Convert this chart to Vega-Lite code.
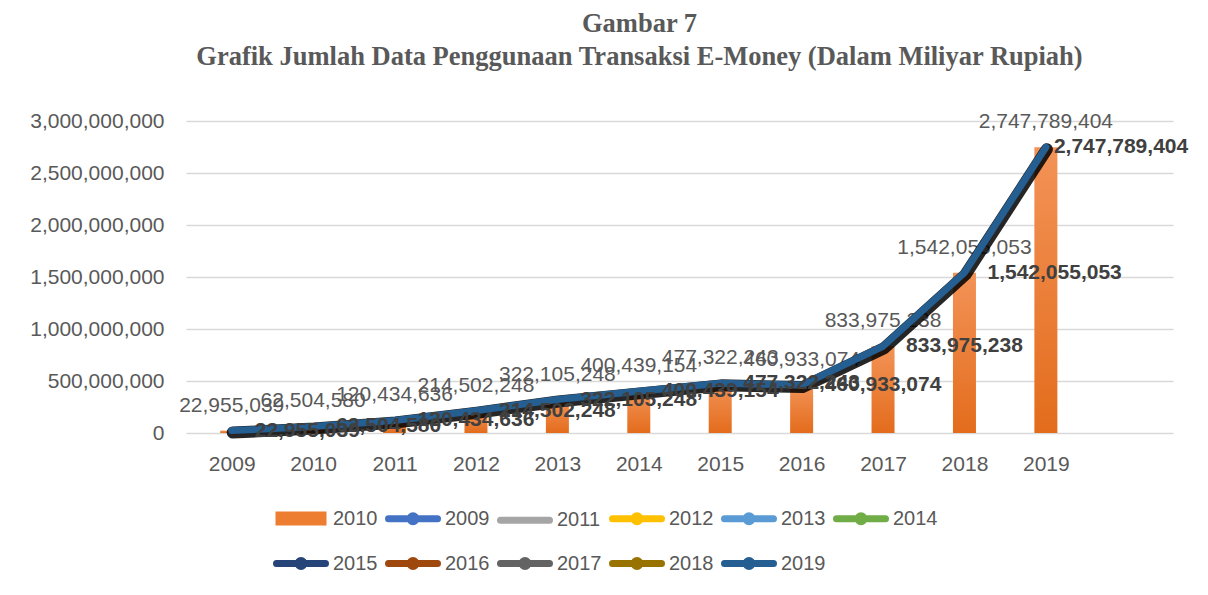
{
  "$schema": "https://vega.github.io/schema/vega-lite/v6.json",
  "width": 987,
  "height": 312,
  "autosize": {"type": "none"},
  "padding": {"left": 186, "top": 121, "right": 35, "bottom": 162},
  "background": "white",
  "config": {"view": {"stroke": null}, "font": "Liberation Sans"},
  "title": {
    "text": ["Gambar 7", "Grafik Jumlah Data Penggunaan Transaksi E-Money (Dalam Miliyar Rupiah)"],
    "font": "Liberation Serif",
    "fontSize": 26.5,
    "fontWeight": "bold",
    "color": "#595959",
    "lineHeight": 33,
    "anchor": "middle",
    "dx": -40,
    "offset": 40
  },
  "data": {
    "values": [
      {"year": 2009, "value": 22955039, "series": "2019"},
      {"year": 2010, "value": 62504580, "series": "2019"},
      {"year": 2011, "value": 120434636, "series": "2019"},
      {"year": 2012, "value": 214502248, "series": "2019"},
      {"year": 2013, "value": 322105248, "series": "2019"},
      {"year": 2014, "value": 400439154, "series": "2019"},
      {"year": 2015, "value": 477322243, "series": "2019"},
      {"year": 2016, "value": 460933074, "series": "2019"},
      {"year": 2017, "value": 833975238, "series": "2019"},
      {"year": 2018, "value": 1542055053, "series": "2019"},
      {"year": 2019, "value": 2747789404, "series": "2019"}
    ]
  },
  "encoding": {
    "x": {
      "field": "year",
      "type": "quantitative",
      "scale": {"domain": [2008.5, 2020.5], "nice": false, "zero": false},
      "axis": {
        "title": null,
        "values": [2009, 2010, 2011, 2012, 2013, 2014, 2015, 2016, 2017, 2018, 2019],
        "format": "d",
        "labelFontSize": 21,
        "labelColor": "#595959",
        "labelPadding": 20,
        "ticks": false,
        "domain": false,
        "grid": false
      }
    },
    "y": {
      "field": "value",
      "type": "quantitative",
      "scale": {"domain": [0, 3000000000], "nice": false},
      "axis": {
        "title": null,
        "values": [0, 500000000, 1000000000, 1500000000, 2000000000, 2500000000, 3000000000],
        "format": ",.0f",
        "labelFontSize": 21,
        "labelColor": "#595959",
        "labelPadding": 22,
        "ticks": false,
        "domain": false,
        "gridColor": "#d9d9d9",
        "gridWidth": 1.5
      }
    }
  },
  "layer": [
    {
      "mark": {
        "type": "bar",
        "size": 23,
        "fill": {
          "x1": 0, "y1": 0, "x2": 0, "y2": 1,
          "gradient": "linear",
          "stops": [
            {"offset": 0, "color": "#F39357"},
            {"offset": 1, "color": "#E36C1C"}
          ]
        }
      }
    },
    {
      "mark": {"type": "text", "dy": -25, "fontSize": 21, "color": "#595959"},
      "encoding": {"text": {"field": "value", "type": "quantitative", "format": ","}}
    },
    {
      "mark": {
        "type": "line",
        "color": "#000000",
        "strokeWidth": 12,
        "opacity": 0.85,
        "xOffset": 1,
        "yOffset": 2,
        "strokeJoin": "round",
        "strokeCap": "round"
      },
      "encoding": {}
    },
    {
      "mark": {"type": "line", "strokeWidth": 7, "strokeJoin": "round", "strokeCap": "round"},
      "encoding": {
        "color": {
          "field": "series",
          "type": "nominal",
          "scale": {
            "domain": ["2010", "2009", "2011", "2012", "2013", "2014", "2015", "2016", "2017", "2018", "2019"],
            "range": ["#ED7D31", "#4472C4", "#A5A5A5", "#FFC000", "#5B9BD5", "#70AD47", "#264478", "#9E480E", "#636363", "#997300", "#255E91"]
          },
          "legend": {
            "title": null,
            "orient": "none",
            "legendX": 87.5,
            "legendY": 384,
            "direction": "horizontal",
            "columns": 6,
            "padding": 0,
            "symbolSize": 400,
            "symbolStrokeWidth": 7,
            "symbolOffset": 14,
            "labelOffset": 18.5,
            "columnPadding": -3,
            "rowPadding": 10,
            "labelFontSize": 20,
            "labelFont": "Liberation Sans",
            "labelColor": "#595959",
            "encode": {
              "symbols": {
                "update": {
                  "shape": {"signal": "datum.value === '2010' ? 'M-2.2,-0.35H2.2V0.35H-2.2Z' : datum.value === '2011' ? 'M-2.45,0H2.45' : 'M-2.45,0H2.45M0.3,0A0.3,0.3 0 1,1 -0.3,0A0.3,0.3 0 1,1 0.3,0Z'"},
                  "fill": {"scale": "color", "field": "value"},
                  "stroke": {"scale": "color", "field": "value"},
                  "strokeWidth": {"value": 7},
                  "strokeCap": {"signal": "datum.value === '2010' ? 'butt' : 'round'"},
                  "opacity": {"value": 1}
                }
              }
            }
          }
        }
      }
    },
    {
      "transform": [{"filter": "datum.year < 2019"}],
      "mark": {"type": "text", "align": "left", "dx": 23, "fontSize": 21, "fontWeight": "bold", "color": "#404040"},
      "encoding": {"text": {"field": "value", "type": "quantitative", "format": ","}}
    },
    {
      "transform": [{"filter": "datum.year == 2019"}],
      "mark": {"type": "text", "align": "left", "dx": 8, "fontSize": 21, "fontWeight": "bold", "color": "#404040"},
      "encoding": {"text": {"field": "value", "type": "quantitative", "format": ","}}
    }
  ]
}
